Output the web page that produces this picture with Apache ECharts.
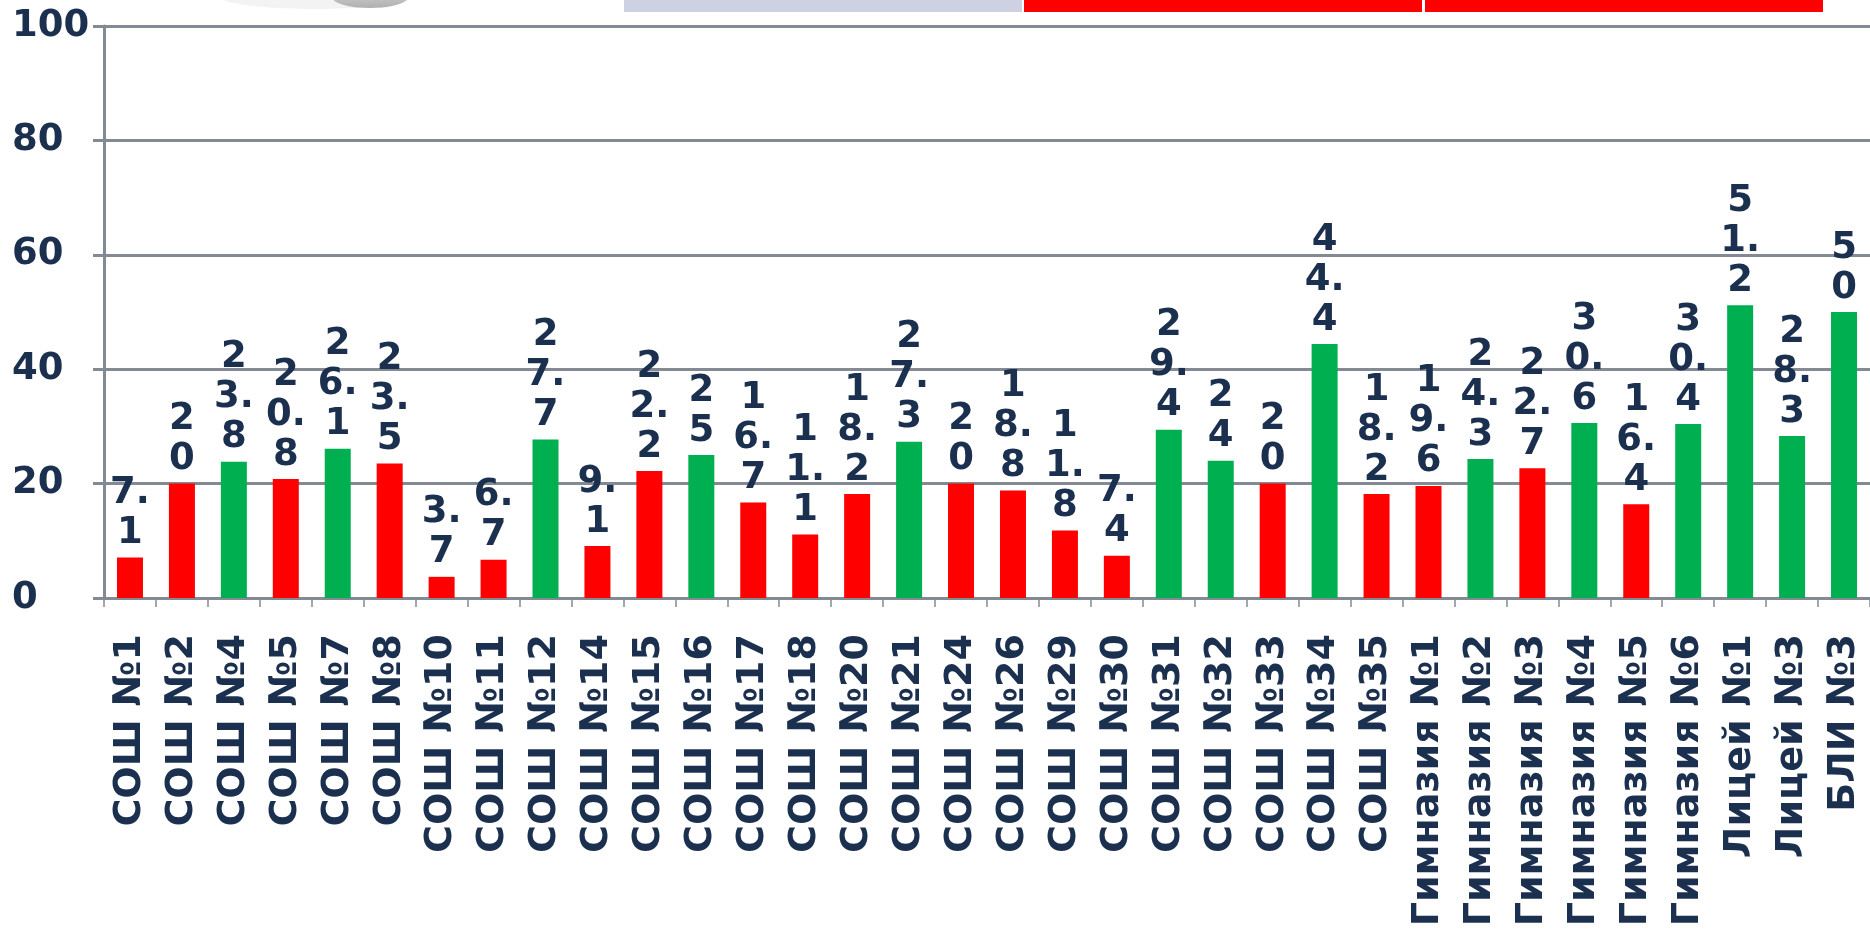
<!DOCTYPE html>
<html>
<head>
<meta charset="utf-8">
<style>
  html, body { margin: 0; padding: 0; background: #ffffff; }
  #chart { width: 1870px; height: 930px; }
</style>
<script src="https://cdn.jsdelivr.net/npm/echarts@6/dist/echarts.min.js"></script>
</head>
<body>
<div id="chart"></div>
<script>
// Schools
const categories = [
  'СОШ №1', 'СОШ №2', 'СОШ №4', 'СОШ №5', 'СОШ №7', 'СОШ №8', 'СОШ №10', 'СОШ №11',
  'СОШ №12', 'СОШ №14', 'СОШ №15', 'СОШ №16', 'СОШ №17', 'СОШ №18', 'СОШ №20', 'СОШ №21',
  'СОШ №24', 'СОШ №26', 'СОШ №29', 'СОШ №30', 'СОШ №31', 'СОШ №32', 'СОШ №33', 'СОШ №34',
  'СОШ №35', 'Гимназия №1', 'Гимназия №2', 'Гимназия №3', 'Гимназия №4', 'Гимназия №5',
  'Гимназия №6', 'Лицей №1', 'Лицей №3', 'БЛИ №3'
];

// Percentage per school
const values = [
  7.1, 20, 23.8, 20.8, 26.1, 23.5, 3.7, 6.7,
  27.7, 9.1, 22.2, 25, 16.7, 11.1, 18.2, 27.3,
  20, 18.8, 11.8, 7.4, 29.4, 24, 20, 44.4,
  18.2, 19.6, 24.3, 22.7, 30.6, 16.4,
  30.4, 51.2, 28.3, 50
];

// Schools marked in green (true) or red (false)
const meetsTarget = [
  false, false, true, false, true, false, false, false,
  true, false, false, true, false, false, false, true,
  false, false, false, false, true, true, false, true,
  false, false, true, false, true, false,
  true, true, true, true
];

const yTicks = [0, 20, 40, 60, 80, 100];

const GREEN = '#00b050';
const RED = '#ff0000';
const INK = '#1b2f4e';
const GRID = '#848a93';
const FONT = '"DejaVu Sans", Verdana, sans-serif';

// Stack the label one glyph per line, keeping a decimal point with its digit
function stackDigits(v) {
  const s = String(v);
  const lines = [];
  for (const ch of s) {
    if (ch === '.' && lines.length) lines[lines.length - 1] += ch;
    else lines.push(ch);
  }
  return lines.join('\n');
}

const chart = echarts.init(document.getElementById('chart'), null, { renderer: 'canvas' });

chart.setOption({
  backgroundColor: '#ffffff',
  animation: false,
  textStyle: { fontFamily: FONT },
  graphic: [
    // faded picture edge at the top left
    { type: 'ellipse', shape: { cx: 316, cy: -4, rx: 98, ry: 13 },
      style: { fill: '#f3f3f3' }, silent: true },
    { type: 'ellipse', shape: { cx: 370, cy: -3, rx: 38, ry: 11 },
      style: { fill: new echarts.graphic.LinearGradient(0, 0, 0, 1, [
        { offset: 0, color: '#d8d8d8' }, { offset: 1, color: '#b0b0b0' }
      ]) }, silent: true },
    // header strip
    { type: 'rect', shape: { x: 624, y: 0, width: 398, height: 12 },
      style: { fill: '#cdd1e2' }, silent: true },
    { type: 'rect', shape: { x: 1024, y: 0, width: 398, height: 12 },
      style: { fill: '#ff0000' }, silent: true },
    { type: 'rect', shape: { x: 1425, y: 0, width: 398, height: 12 },
      style: { fill: '#ff0000' }, silent: true }
  ],
  grid: { left: 104, right: 0, top: 26, bottom: 332, containLabel: false },
  xAxis: {
    type: 'category',
    data: categories,
    boundaryGap: true,
    axisLine: { show: true, lineStyle: { color: GRID, width: 3 } },
    axisTick: { show: true, interval: 0, length: 9, lineStyle: { color: GRID, width: 1.5 } },
    axisLabel: {
      interval: 0,
      rotate: 90,
      margin: 36,
      color: INK,
      fontFamily: FONT,
      fontWeight: 'bold',
      fontSize: 38
    }
  },
  yAxis: {
    type: 'value',
    min: yTicks[0],
    max: yTicks[yTicks.length - 1],
    interval: yTicks[1] - yTicks[0],
    axisLine: { show: true, lineStyle: { color: GRID, width: 3 } },
    axisTick: { show: true, length: 11, lineStyle: { color: GRID, width: 3 } },
    splitLine: { show: true, lineStyle: { color: GRID, width: 3 } },
    axisLabel: {
      margin: 92,
      align: 'left',
      color: INK,
      fontFamily: FONT,
      fontWeight: 'bold',
      fontSize: 37
    }
  },
  series: [{
    type: 'bar',
    barWidth: 26,
    data: values.map((v, i) => ({
      value: v,
      itemStyle: { color: meetsTarget[i] ? GREEN : RED }
    })),
    label: {
      show: true,
      position: 'top',
      distance: 4,
      formatter: p => stackDigits(p.value),
      color: INK,
      fontFamily: FONT,
      fontWeight: 'bold',
      fontSize: 37,
      lineHeight: 40,
      align: 'center'
    }
  }]
});
</script>
</body>
</html>
